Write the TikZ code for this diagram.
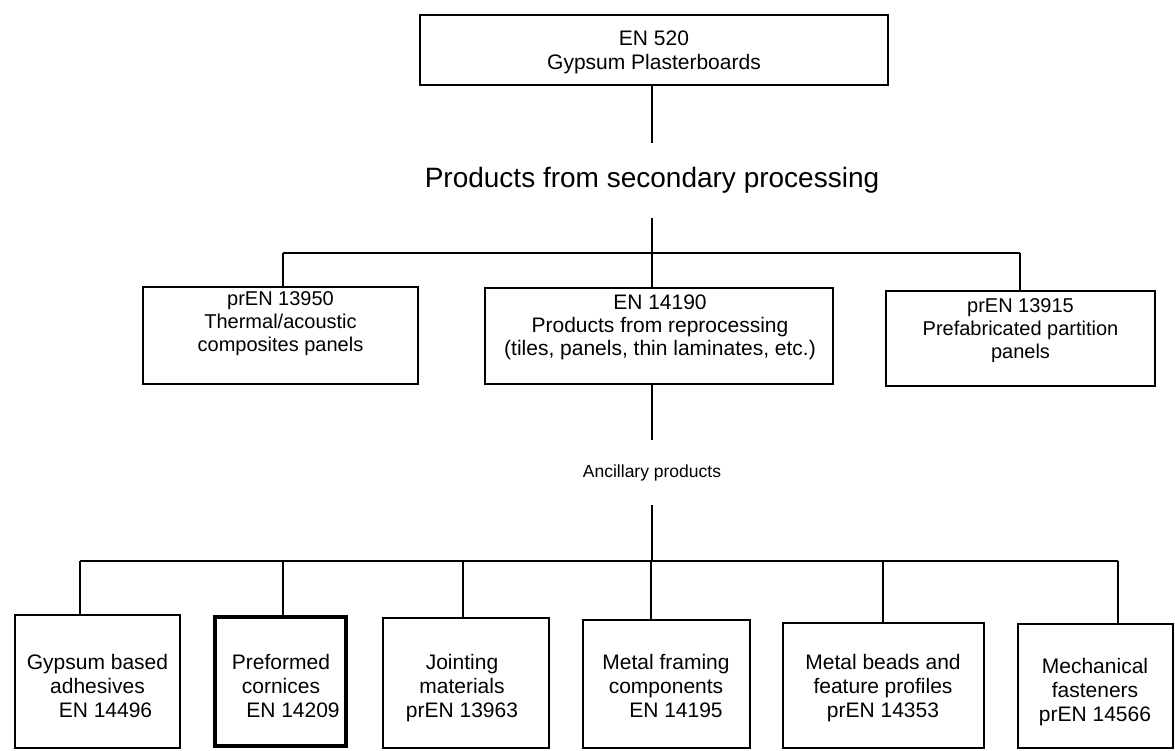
\documentclass[tikz,border=0pt]{standalone}
\usepackage{fontspec}
\setmainfont{Liberation Sans}
\begin{document}
\begin{tikzpicture}[x=1pt,y=-1pt,
  frame/.style={draw, line width=1.3pt, inner sep=0pt},
  thickframe/.style={draw, line width=4pt, inner sep=0pt},
  txt/.style={align=center, inner sep=0pt, font=\fontsize{20}{23}\selectfont},
  ttxt/.style={align=center, inner sep=0pt, font=\fontsize{21}{24}\selectfont},
  mtxt/.style={align=center, inner sep=0pt, font=\fontsize{21}{23}\selectfont},
  btxt/.style={align=center, inner sep=0pt, font=\fontsize{21}{24}\selectfont},
  heading/.style={inner sep=0pt, font=\fontsize{28}{32}\selectfont},
  subheading/.style={inner sep=0pt, font=\fontsize{17.5}{20}\selectfont},
  conn/.style={line width=1.3pt}
]
\useasboundingbox (0,0) rectangle (1175,751);

% top box
\node[frame, minimum width=468pt, minimum height=70pt] (top) at (654,50) {};
\node[ttxt] (topt) at (654,52) {EN 520\\Gypsum Plasterboards};

% heading 1
\node[heading, minimum height=75pt] (sec) at (652,180.5) {Products from secondary processing};

% middle row
\node[frame, minimum width=275pt, minimum height=97pt] (m1) at (280.5,335.5) {};
\node[txt] (m1t) at (280.5,324) {prEN 13950\\Thermal/acoustic\\composites panels};
\node[frame, minimum width=348pt, minimum height=96pt] (m2) at (659,336) {};
\node[mtxt] (m2t) at (660,327) {EN 14190\\Products from reprocessing\\(tiles, panels, thin laminates, etc.)};
\node[frame, minimum width=269pt, minimum height=95pt] (m3) at (1020.5,338.5) {};
\node[txt] (m3t) at (1020.5,331) {prEN 13915\\Prefabricated partition\\panels};

% heading 2
\node[subheading, minimum height=65pt] (anc) at (652,472.5) {Ancillary products};

% bottom row
\node[frame, minimum width=165pt, minimum height=133pt] (b1) at (97.5,681.5) {};
\node[btxt] (b1t) at (97.5,686) {Gypsum based\\adhesives\\\hspace*{16pt}EN 14496};
\node[thickframe, minimum width=131pt, minimum height=129pt] (b2) at (280.5,681.5) {};
\node[btxt] (b2t) at (281,686) {Preformed\\cornices\\\hspace*{24pt}EN 14209};
\node[frame, minimum width=166pt, minimum height=130pt] (b3) at (466,683) {};
\node[btxt] (b3t) at (462,688) {Jointing\\materials\\prEN 13963};
\node[frame, minimum width=167pt, minimum height=128pt] (b4) at (666.5,684) {};
\node[btxt] (b4t) at (666,686) {Metal framing\\components\\\hspace*{20pt}EN 14195};
\node[frame, minimum width=201pt, minimum height=125pt] (b5) at (883.5,685.5) {};
\node[btxt] (b5t) at (883,688) {Metal beads and\\feature profiles\\prEN 14353};
\node[frame, minimum width=155pt, minimum height=124pt] (b6) at (1095.5,686) {};
\node[btxt] (b6t) at (1095,692) {Mechanical\\fasteners\\prEN 14566};

% connectors: top part
\draw[conn] (sec.north |- top.south) -- (sec.north);
\coordinate (bus1L) at (283,253);
\coordinate (bus1R) at (1020,253);
\draw[conn] (sec.south) -- (sec.south |- m2.north);
\draw[conn] (bus1L) -- (bus1R);
\draw[conn] (bus1L) -- (bus1L |- m1.north);
\draw[conn] (bus1R) -- (bus1R |- m3.north);

% connectors: lower part
\draw[conn] (m2.south -| anc.north) -- (anc.north);
\draw[conn] (anc.south) -- (anc.south |- 0,561);
\coordinate (c1) at (80,561);
\coordinate (c2) at (283,561);
\coordinate (c3) at (463,561);
\coordinate (c4) at (651,561);
\coordinate (c5) at (883,561);
\coordinate (c6) at (1118,561);
\draw[conn] (c1) -- (c6);
\draw[conn] (c1) -- (c1 |- b1.north);
\draw[conn] (c2) -- (c2 |- b2.north);
\draw[conn] (c3) -- (c3 |- b3.north);
\draw[conn] (c4) -- (c4 |- b4.north);
\draw[conn] (c5) -- (c5 |- b5.north);
\draw[conn] (c6) -- (c6 |- b6.north);
\end{tikzpicture}
\end{document}
